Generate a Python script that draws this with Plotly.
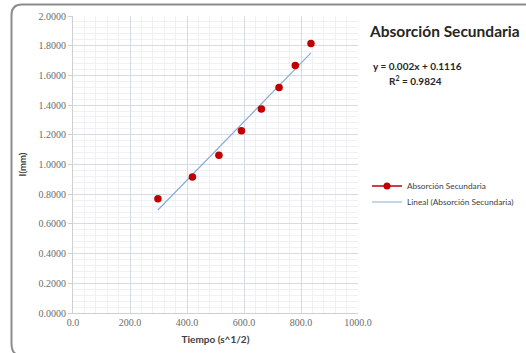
import numpy as np
import plotly.graph_objects as go

# Data
tiempo = [298, 419, 512, 591, 661, 723, 780, 835]
absorcion = [0.770, 0.916, 1.062, 1.228, 1.374, 1.518, 1.666, 1.814]
x_ticks = [0, 200, 400, 600, 800, 1000]
y_ticks = [0.0, 0.2, 0.4, 0.6, 0.8, 1.0, 1.2, 1.4, 1.6, 1.8, 2.0]
series_name = "Absorción Secundaria"
trend_name = "Lineal (Absorción Secundaria)"
eq_text = "y = 0.002x + 0.1116"
r2_text = "R<sup>2</sup> = 0.9824"

W, H = 526, 353
L, R, T, B = 73, 168, 16, 40
pw, ph = W - L - R, H - T - B

def px(x):
    return (x - L) / pw

def py(y):
    return (H - B - y) / ph

slope, intercept = np.polyfit(tiempo, absorcion, 1)
tx = [min(tiempo), max(tiempo)]
ty = [slope * v + intercept for v in tx]

red = "#c00000"
blue = "#86acd6"

fig = go.Figure()
fig.add_trace(go.Scatter(x=tx, y=ty, mode="lines", line=dict(color=blue, width=1.2),
                         showlegend=False, hoverinfo="skip"))
fig.add_trace(go.Scatter(x=tiempo, y=absorcion, mode="markers",
                         marker=dict(color=red, size=7.5), showlegend=False))
# legend entries
fig.add_trace(go.Scatter(x=[None], y=[None], mode="lines+markers", name=series_name,
                         marker=dict(color=red, size=7), line=dict(color=red, width=1.5),
                         legend="legend"))
fig.add_trace(go.Scatter(x=[None], y=[None], mode="lines", name=trend_name,
                         line=dict(color=blue, width=1.2), legend="legend2"))

tickfont = dict(family="Liberation Serif", size=10, color="#6b6b6b")
fig.update_xaxes(range=[0, 1000], tickvals=x_ticks, ticktext=[f"{v:.1f}" for v in x_ticks],
                 tickfont=tickfont, showgrid=True, gridcolor="#d5dbe6", gridwidth=1,
                 minor=dict(dtick=40, showgrid=True, gridcolor="#eff1f6"),
                 showline=True, linecolor="#d0d0d0", zeroline=False, ticks="",
                 automargin=False,
                 title=dict(text="<b>Tiempo (s^1/2)</b>", font=dict(family="Lato", size=10, color="#404040"),
                            standoff=8))
fig.update_yaxes(range=[0, 2.0], tickvals=y_ticks, ticktext=[f"{v:.4f}" for v in y_ticks],
                 tickfont=tickfont, showgrid=True, gridcolor="#d5dbe6", gridwidth=1,
                 minor=dict(dtick=0.04, showgrid=True, gridcolor="#eff1f6"),
                 showline=True, linecolor="#d0d0d0", zeroline=False, ticks="outside",
                 ticklen=4, tickcolor="#d0d0d0", automargin=False,
                 title=dict(text="<b>I(mm)</b>", font=dict(family="Lato", size=9.5, color="#404040"),
                            standoff=10))

legfont = dict(family="Lato", size=8.3, color="#404040")
fig.update_layout(
    width=W, height=H, margin=dict(l=L, r=R, t=T, b=B, autoexpand=False),
    paper_bgcolor="white", plot_bgcolor="white",
    showlegend=True,
    legend=dict(x=px(367), y=py(186), xanchor="left", yanchor="middle",
                font=legfont, bgcolor="rgba(0,0,0,0)", itemwidth=30),
    legend2=dict(x=px(367), y=py(202), xanchor="left", yanchor="middle",
                 font=legfont, bgcolor="rgba(0,0,0,0)", itemwidth=30),
    annotations=[
        dict(text="<b>Absorción Secundaria</b>", x=px(367), y=py(31), xref="paper", yref="paper",
             xanchor="left", yanchor="middle", showarrow=False,
             font=dict(family="Lato", size=15.5, color="#262626")),
        dict(text="<b>" + eq_text + "</b>", x=px(371), y=py(66), xref="paper", yref="paper",
             xanchor="left", yanchor="middle", showarrow=False,
             font=dict(family="Lato", size=10, color="#262626")),
        dict(text="<b>" + r2_text + "</b>", x=px(387), y=py(80), xref="paper", yref="paper",
             xanchor="left", yanchor="middle", showarrow=False,
             font=dict(family="Lato", size=10, color="#262626")),
    ],
    shapes=[
        dict(type="path", xref="paper", yref="paper",
             path=f"M {px(560)},{py(4.5)} L {px(22)},{py(4.5)} Q {px(11.5)},{py(4.5)} {px(11.5)},{py(15)} "
                  f"L {px(11.5)},{py(343)} Q {px(11.5)},{py(352)} {px(16)},{py(354)}",
             line=dict(color="#8c8c8c", width=2)),
    ],
)

fig.write_html("out.html", config={"displayModeBar": False},
               post_script="document.body.style.margin='0';document.body.style.overflow='hidden';")
